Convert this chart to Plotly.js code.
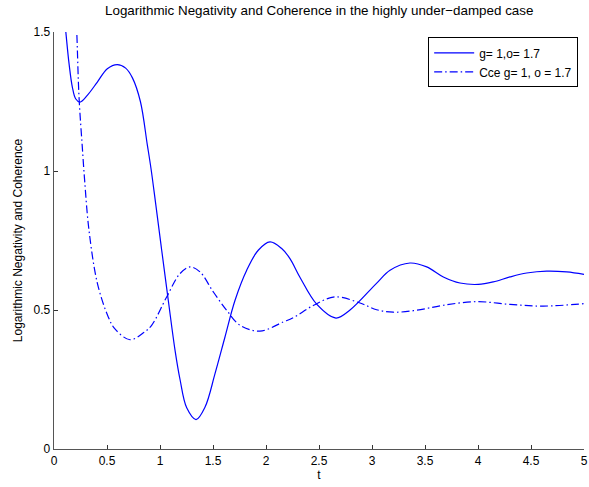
<!DOCTYPE html>
<html>
<head>
<meta charset="utf-8">
<script src="https://cdn.plot.ly/plotly-3.0.1.min.js"></script>
<style>html,body{margin:0;padding:0;background:#fff;}#chart{width:589px;height:487px;}</style>
</head>
<body>
<div id="chart"></div>
<script>
// Solid curve: g = 1, o = 1.7
const tSolid = [0.085, 0.110, 0.142, 0.173, 0.204, 0.245, 0.314, 0.409, 0.503, 0.597, 0.676, 0.740, 0.815, 0.880, 0.915, 0.960, 1.016, 1.078, 1.142, 1.189, 1.252, 1.340, 1.425, 1.519, 1.613, 1.708, 1.818, 1.927, 2.038, 2.148, 2.226, 2.320, 2.480, 2.660, 2.790, 3.040, 3.170, 3.358, 3.516, 3.673, 3.830, 4.003, 4.144, 4.302, 4.459, 4.648, 4.837, 5.0];
const vSolid = [1.60, 1.506, 1.386, 1.302, 1.260, 1.248, 1.272, 1.320, 1.368, 1.383, 1.370, 1.335, 1.250, 1.095, 1.009, 0.880, 0.715, 0.535, 0.355, 0.250, 0.148, 0.106, 0.151, 0.271, 0.403, 0.535, 0.643, 0.715, 0.745, 0.721, 0.685, 0.618, 0.520, 0.471, 0.499, 0.595, 0.643, 0.669, 0.655, 0.619, 0.597, 0.592, 0.601, 0.619, 0.633, 0.640, 0.637, 0.628];
// Dash-dot curve: Cce g = 1, o = 1.7
const tDash = [0.200, 0.214, 0.236, 0.267, 0.289, 0.330, 0.410, 0.512, 0.575, 0.717, 0.843, 0.921, 1.063, 1.189, 1.283, 1.377, 1.503, 1.629, 1.755, 1.943, 2.163, 2.260, 2.450, 2.651, 2.887, 3.044, 3.200, 3.420, 3.673, 3.988, 4.302, 4.616, 5.0];
const vDash = [1.60, 1.506, 1.266, 1.086, 0.967, 0.787, 0.595, 0.475, 0.432, 0.393, 0.418, 0.445, 0.547, 0.631, 0.655, 0.637, 0.565, 0.499, 0.445, 0.424, 0.457, 0.473, 0.517, 0.547, 0.525, 0.501, 0.492, 0.499, 0.517, 0.530, 0.520, 0.514, 0.523];
const xTicks = [0, 0.5, 1, 1.5, 2, 2.5, 3, 3.5, 4, 4.5, 5];
const yTicks = [0, 0.5, 1, 1.5];
const names = ['g= 1,o= 1.7', 'Cce g= 1, o = 1.7'];

const font = 'Liberation Sans, Arial, Helvetica, sans-serif';
const traces = [
  {x: tSolid, y: vSolid, mode: 'lines', name: names[0],
   line: {color: '#0000ff', width: 1.2, shape: 'spline', smoothing: 1}},
  {x: tDash, y: vDash, mode: 'lines', name: names[1],
   line: {color: '#0000ff', width: 1.2, shape: 'spline', smoothing: 1, dash: '8px,3px,1.5px,3px'}}
];
const axisCommon = {
  showgrid: false, zeroline: false, showline: true, linecolor: '#555', linewidth: 1.3,
  ticks: 'inside', ticklen: 4, tickcolor: '#333', tickwidth: 1,
  tickfont: {family: font, size: 12, color: '#000'}, mirror: false
};
const layout = {
  width: 589, height: 487,
  margin: {l: 54, r: 5, t: 32, b: 38},
  paper_bgcolor: '#fff', plot_bgcolor: '#fff',
  font: {family: font, color: '#000'},
  title: {text: 'Logarithmic Negativity and Coherence in the highly under\u2212damped case',
          font: {family: font, size: 13.4, color: '#000'}, x: 0.542, xanchor: 'center', y: 0.979, yanchor: 'middle'},
  xaxis: Object.assign({}, axisCommon, {range: [0, 5], tickvals: xTicks, ticktext: xTicks.map(String),
          title: {text: 't', font: {family: font, size: 12}, standoff: 2}}),
  yaxis: Object.assign({}, axisCommon, {range: [0, 1.5], tickvals: yTicks, ticktext: yTicks.map(String),
          title: {text: 'Logarithmic Negativity and Coherence', font: {family: font, size: 12}, standoff: 8}}),
  showlegend: true,
  legend: {x: 0.989, xanchor: 'right', y: 0.987, yanchor: 'top', bgcolor: '#fff',
           bordercolor: '#000', borderwidth: 1, font: {family: font, size: 12}, tracegroupgap: 0,
           itemwidth: 40}
};
Plotly.newPlot('chart', traces, layout, {staticPlot: true, displayModeBar: false});
</script>
</body>
</html>
